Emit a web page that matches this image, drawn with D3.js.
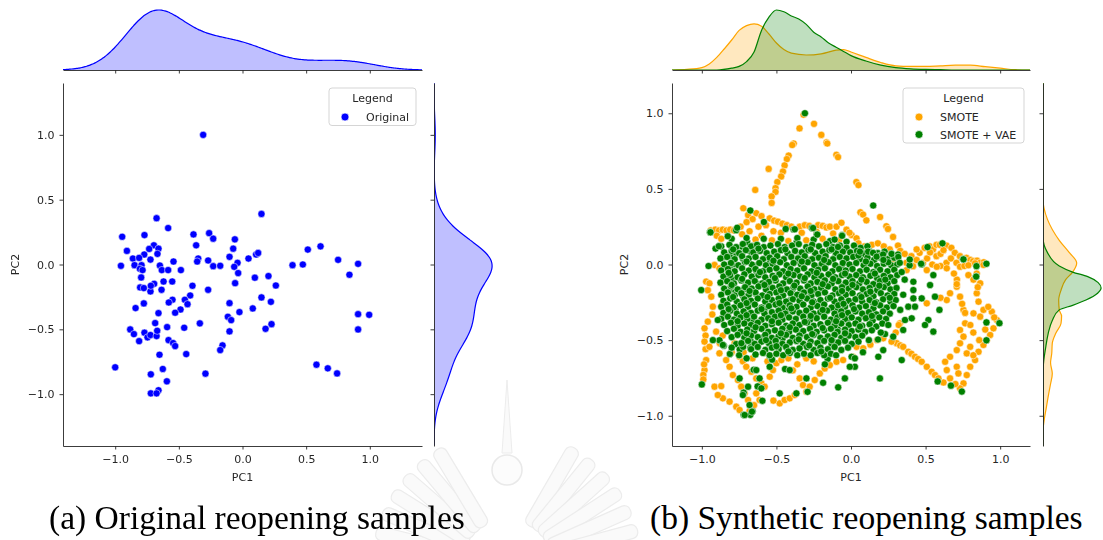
<!DOCTYPE html>
<html>
<head>
<meta charset="utf-8">
<script src="https://cdn.jsdelivr.net/npm/d3@7"></script>
<style>
  body { margin: 0; background: #fff; }
  svg { display: block; }
  .caption { font-family: "Liberation Serif", "Times New Roman", serif; font-size: 33.5px; fill: #000; }
  .lbl { font-family: "DejaVu Sans", sans-serif; font-size: 11px; fill: #262626; }
</style>
</head>
<body>
<svg width="1103" height="540"></svg>
<script>
// ---------- data ----------
const ticks = [-1.0, -0.5, 0.0, 0.5, 1.0];

// original reopening samples (PC1, PC2)
const origPoints = [
  [-0.309,1.0],[-0.675,0.357],[0.149,0.39],[-0.584,0.281],[-0.945,0.214],[-0.770,0.227],[-0.385,0.232],[-0.262,0.242],
  [-0.230,0.199],[-0.364,0.148],[-0.060,0.194],[-0.073,0.122],[-0.696,0.148],[-0.660,0.122],[-0.733,0.120],[-0.908,0.105],
  [-0.772,0.077],[-0.668,0.082],[-0.861,0.046],[-0.812,0.051],[-0.723,0.038],[-0.348,0.046],[-0.356,0.023],[-0.270,0.031],
  [-0.542,0.023],[-0.649,-0.008],[-0.230,-0.013],[-0.175,-0.010],[-0.102,0.059],[-0.039,0.013],[-0.065,-0.018],[0.047,0.046],
  [0.107,0.077],[0.123,0.089],[-0.955,-0.010],[-0.848,-0.005],[-0.793,-0.005],[-0.806,-0.033],[-0.785,-0.043],[-0.634,-0.043],
  [-0.584,-0.043],[-0.484,-0.043],[-0.796,-0.100],[0.393,-0.005],[0.474,0.0],[0.513,0.115],[0.613,0.140],[0.751,0.036],
  [0.908,0.005],[0.840,-0.079],[0.097,-0.102],[0.204,-0.089],[-0.034,-0.066],[-0.058,-0.144],[0.262,-0.162],[-0.804,-0.177],
  [-0.775,-0.182],[-0.723,-0.208],[-0.694,-0.149],[-0.720,-0.164],[-0.636,-0.195],[-0.620,-0.131],[-0.552,-0.131],[-0.393,-0.164],
  [-0.270,-0.195],[-0.411,-0.239],[0.149,-0.254],[0.223,-0.288],[-0.453,-0.272],[-0.550,-0.272],[-0.579,-0.293],[-0.432,-0.306],
  [-0.775,-0.300],[-0.102,-0.298],[-0.024,-0.367],[0.081,-0.339],[-0.840,-0.336],[-0.487,-0.347],[-0.529,-0.372],[-0.660,-0.375],
  [-0.115,-0.403],[-0.089,-0.429],[-0.335,-0.454],[-0.686,-0.452],[0.908,-0.383],[0.995,-0.388],[-0.882,-0.501],[-0.853,-0.537],
  [-0.770,-0.526],[-0.812,-0.591],[-0.746,-0.562],[-0.723,-0.544],[-0.675,-0.552],[-0.670,-0.511],[-0.592,-0.483],[-0.458,-0.488],
  [-0.102,-0.516],[0.181,-0.496],[0.228,-0.460],[0.908,-0.501],[-0.581,-0.583],[-0.545,-0.606],[-0.529,-0.629],[-0.652,-0.696],
  [-0.442,-0.691],[-0.157,-0.624],[-0.175,-0.660],[-1.0,-0.793],[-0.626,-0.806],[-0.720,-0.847],[-0.594,-0.901],[-0.291,-0.842],
  [0.581,-0.773],[0.670,-0.801],[0.743,-0.840],[-0.660,-0.970],[-0.720,-0.994],[-0.675,-0.994]
];

// SMOTE samples (visible ones)
const smotePoints = [
  [-0.318,0.99],[-0.345,0.90],[-0.384,0.80],[-0.394,0.79],[-0.418,0.72],[-0.43,0.697],[-0.445,0.655],[-0.456,0.615],
  [-0.468,0.582],[-0.494,0.545],[-0.506,0.505],[-0.506,0.48],[-0.532,0.45],[-0.532,0.407],[-0.552,0.632],[-0.642,0.493],
  [-0.722,0.372],[-0.248,0.93],[-0.199,0.857],[-0.164,0.807],[-0.159,0.80],[-0.098,0.725],[-0.087,0.71],[0.036,0.545],
  [0.05,0.525],[0.063,0.345],[0.081,0.33],[0.103,0.292],[0.195,0.314],[0.237,0.253],[0.248,0.235],[0.282,0.182],[0.315,0.125],
  [-0.94,0.225],[-0.91,0.23],[-0.885,0.225],[-0.86,0.23],[-0.835,0.225],[-0.81,0.23],[-0.785,0.225],[-0.90,0.19],[-0.87,0.17],
  [-0.69,0.327],[-0.635,0.339],[-0.60,0.32],[-0.66,0.30],[-0.70,0.28],[-0.545,0.305],[-0.515,0.29],[-0.49,0.283],[-0.46,0.27],
  [-0.43,0.26],[-0.40,0.25],[-0.344,0.25],[-0.31,0.26],[-0.28,0.255],[-0.22,0.26],[-0.19,0.255],[-0.165,0.245],[-0.142,0.25],
  [-0.097,0.25],[-0.064,0.276],[-0.03,0.23],[0.004,0.195],[0.037,0.173],[-0.62,0.25],[-0.57,0.26],[-0.74,0.25],[-0.68,0.22],
  [-0.52,0.22],[-0.47,0.21],[-0.33,0.21],[-0.23,0.215],[-0.12,0.205],[-0.01,0.21],[-0.73,0.20],[-0.60,0.19],[0.05,0.14],
  [0.09,0.12],[0.14,0.13],[0.18,0.14],[0.22,0.12],[0.26,0.10],[0.33,0.09],[0.36,0.07],
  [-0.64,0.165],[-0.53,0.16],[-0.42,0.155],[-0.30,0.16],[-0.19,0.17],[-0.08,0.16],
  [0.405,0.055],[0.46,0.077],[0.494,0.11],[0.528,0.12],[0.55,0.10],[0.573,0.13],[0.595,0.13],[0.64,0.125],[0.673,0.11],
  [0.696,0.077],[0.73,0.055],[0.774,0.044],[0.80,0.03],[0.819,0.022],[0.845,0.025],[0.864,0.011],[0.89,0.015],[0.573,0.055],
  [0.60,0.07],[0.64,0.011],[0.67,0.04],[0.707,0.011],[0.483,0.011],[0.51,0.04],[0.416,-0.011],[0.371,0.011],[0.282,0.033],
  [0.44,0.10],[0.53,0.08],[0.62,0.095],[0.545,0.0],[0.60,-0.01],[0.44,0.03],
  [0.731,-0.015],[0.76,-0.01],[0.787,-0.005],[0.832,0.008],[0.888,-0.003],[0.787,-0.07],[0.843,-0.06],[0.821,-0.10],
  [0.866,-0.124],[0.843,-0.19],[0.855,-0.246],[0.85,-0.15],[0.888,-0.30],[0.944,-0.312],[0.978,-0.367],[0.955,-0.422],
  [0.933,-0.466],[0.91,-0.50],[0.888,-0.532],[0.855,-0.577],[0.832,-0.632],[0.799,-0.676],[0.776,-0.731],[0.754,-0.786],
  [0.731,-0.819],[0.664,-0.19],[0.709,-0.147],[0.731,-0.213],[0.754,-0.30],[0.765,-0.32],[0.821,-0.323],[0.866,-0.345],
  [0.765,-0.389],[0.731,-0.433],[0.754,-0.477],[0.731,-0.521],[0.709,-0.566],[0.664,-0.61],[0.631,-0.643],[0.642,-0.698],
  [0.709,-0.676],[0.72,-0.72],[0.664,-0.753],[0.776,-0.588],[0.799,-0.544],[0.71,-0.10],[0.69,-0.06],[0.745,-0.26],
  [0.96,-0.35],[0.92,-0.28],[0.90,-0.43],[0.82,-0.45],[0.80,-0.40],[0.86,-0.50],[0.82,-0.60],[0.70,-0.79],[0.62,-0.78],
  [0.306,-0.52],[0.33,-0.535],[0.35,-0.544],[0.384,-0.577],[0.405,-0.59],[0.429,-0.61],[0.45,-0.625],[0.474,-0.643],
  [0.508,-0.676],[0.541,-0.709],[0.563,-0.731],[0.586,-0.753],[0.328,-0.389],[0.508,-0.257],[0.642,-0.235],[0.60,-0.22],
  [0.283,-0.015],[0.373,-0.037],[0.508,-0.037],[0.575,-0.015],[0.642,-0.025],[0.709,-0.13],[0.037,-0.544],[0.082,-0.554],
  [0.13,-0.53],[0.175,-0.50],[0.216,-0.488],[0.272,-0.51],[0.30,-0.45],[0.32,-0.40],
  [-0.971,-0.113],[-0.949,-0.124],[-0.96,-0.17],[-0.937,-0.213],[-0.926,-0.279],[-0.93,-0.33],[-0.96,-0.378],[-0.982,-0.422],
  [-0.975,-0.47],[-0.982,-0.51],[-0.975,-0.56],[-0.971,-0.632],[-0.982,-0.698],[-0.99,-0.73],[-0.985,-0.66],[-0.99,-0.76],
  [-0.904,-0.444],[-0.949,-0.544],[-0.882,-0.587],[-0.837,-0.632],[-0.814,-0.676],[-0.792,-0.731],[-0.758,-0.764],[-0.736,-0.808],
  [-0.713,-0.852],[-0.69,-0.896],[-0.769,-0.94],[-0.814,-0.907],[-0.859,-0.885],[-0.893,-0.863],[-0.915,-0.808],[-0.87,-0.804],
  [-0.747,-0.962],[-0.747,-0.61],[-0.725,-0.64],[-0.702,-0.676],[-0.668,-0.709],[-0.635,-0.753],[-0.601,-0.786],[-0.579,-0.808],
  [-0.545,-0.742],[-0.523,-0.698],[-0.50,-0.653],[-0.467,-0.632],[-0.478,-0.918],[-0.445,-0.896],[-0.411,-0.885],[-0.377,-0.863],
  [-0.344,-0.753],[-0.322,-0.797],[-0.299,-0.841],[-0.277,-0.808],[-0.243,-0.764],[-0.209,-0.72],[-0.176,-0.687],[-0.142,-0.665],
  [-0.097,-0.643],[-0.053,-0.632],[0.014,-0.61],[-0.635,-0.852],[-0.613,-0.896],[-0.915,-0.003],[-0.882,-0.025],[-0.859,-0.257],
  [-0.88,-0.52],[-0.86,-0.47],[-0.80,-0.58],[-0.78,-0.52],[-0.72,-0.58],[-0.66,-0.62],[-0.56,-0.64],[-0.42,-0.62],[-0.30,-0.62],
  [-0.25,-0.64],[-0.65,-0.93],[-0.68,-0.97],[-0.52,-0.90],[-0.39,-0.70],[-0.36,-0.66]
];

// SMOTE + VAE samples: the dense core
const vaeCloud = [
  [-0.80,0.17],[-0.70,0.175],[-0.585,0.17],[-0.47,0.17],[-0.36,0.175],[-0.25,0.165],[-0.14,0.155],[-0.03,0.15],
  [-0.87,0.12],[-0.815,0.13],[-0.77,0.115],[-0.725,0.135],[-0.67,0.12],[-0.63,0.13],[-0.585,0.115],[-0.54,0.125],[-0.49,0.135],[-0.445,0.115],[-0.395,0.125],[-0.35,0.135],[-0.30,0.115],[-0.26,0.13],[-0.215,0.12],[-0.165,0.135],[-0.12,0.115],[-0.075,0.125],[-0.03,0.11],[0.02,0.125],[0.065,0.11],[0.11,0.12],
  [-0.85,0.08],[-0.80,0.09],[-0.75,0.075],[-0.705,0.095],[-0.655,0.08],[-0.61,0.09],[-0.565,0.075],[-0.515,0.085],[-0.47,0.095],[-0.425,0.075],[-0.375,0.09],[-0.33,0.08],[-0.285,0.095],[-0.24,0.075],[-0.19,0.085],[-0.145,0.095],[-0.10,0.075],[-0.055,0.085],[-0.005,0.08],[0.04,0.09],[0.085,0.07],[0.13,0.08],[0.18,0.075],[0.225,0.085],[0.27,0.07],
  [-0.875,0.04],[-0.83,0.05],[-0.78,0.035],[-0.73,0.055],[-0.685,0.04],[-0.64,0.05],[-0.59,0.035],[-0.545,0.045],[-0.495,0.055],[-0.45,0.035],[-0.40,0.05],[-0.355,0.04],[-0.31,0.055],[-0.26,0.035],[-0.215,0.045],[-0.17,0.055],[-0.12,0.035],[-0.075,0.05],[-0.03,0.04],[0.015,0.05],[0.06,0.035],[0.11,0.045],[0.155,0.03],[0.20,0.045],[0.245,0.035],[0.29,0.045],
  [-0.85,0.0],[-0.805,0.01],[-0.755,-0.005],[-0.71,0.015],[-0.665,0.0],[-0.615,0.01],[-0.57,-0.005],[-0.525,0.005],[-0.475,0.015],[-0.43,-0.005],[-0.385,0.01],[-0.335,0.0],[-0.29,0.015],[-0.245,-0.005],[-0.195,0.005],[-0.15,0.015],[-0.105,-0.005],[-0.055,0.01],[-0.01,0.0],[0.035,0.01],[0.085,-0.005],[0.13,0.005],[0.175,-0.01],[0.22,0.005],[0.27,-0.005],[0.31,0.0],
  [-0.87,-0.04],[-0.825,-0.03],[-0.78,-0.045],[-0.73,-0.025],[-0.685,-0.04],[-0.64,-0.03],[-0.59,-0.045],[-0.545,-0.035],[-0.50,-0.025],[-0.455,-0.045],[-0.405,-0.03],[-0.36,-0.04],[-0.315,-0.025],[-0.265,-0.045],[-0.22,-0.035],[-0.175,-0.025],[-0.125,-0.045],[-0.08,-0.03],[-0.035,-0.04],[0.01,-0.03],[0.06,-0.045],[0.105,-0.035],[0.15,-0.05],[0.195,-0.035],[0.245,-0.045],[0.29,-0.035],
  [-0.855,-0.08],[-0.81,-0.07],[-0.76,-0.085],[-0.715,-0.065],[-0.665,-0.08],[-0.62,-0.07],[-0.575,-0.085],[-0.525,-0.075],[-0.48,-0.065],[-0.435,-0.085],[-0.385,-0.07],[-0.34,-0.08],[-0.29,-0.065],[-0.245,-0.085],[-0.20,-0.075],[-0.15,-0.065],[-0.105,-0.085],[-0.06,-0.07],[-0.01,-0.08],[0.035,-0.07],[0.08,-0.085],[0.13,-0.075],[0.175,-0.09],[0.22,-0.075],[0.265,-0.085],[0.31,-0.07],
  [-0.875,-0.12],[-0.83,-0.11],[-0.785,-0.125],[-0.735,-0.105],[-0.69,-0.12],[-0.645,-0.11],[-0.595,-0.125],[-0.55,-0.115],[-0.505,-0.105],[-0.455,-0.125],[-0.41,-0.11],[-0.365,-0.12],[-0.315,-0.105],[-0.27,-0.125],[-0.225,-0.115],[-0.175,-0.105],[-0.13,-0.125],[-0.085,-0.11],[-0.035,-0.12],[0.01,-0.11],[0.055,-0.125],[0.105,-0.115],[0.15,-0.13],[0.195,-0.11],[0.245,-0.125],[0.29,-0.11],
  [-0.85,-0.16],[-0.805,-0.145],[-0.76,-0.165],[-0.71,-0.15],[-0.665,-0.16],[-0.62,-0.145],[-0.57,-0.165],[-0.525,-0.155],[-0.48,-0.145],[-0.43,-0.165],[-0.385,-0.15],[-0.34,-0.16],[-0.29,-0.145],[-0.245,-0.165],[-0.20,-0.155],[-0.155,-0.145],[-0.105,-0.165],[-0.06,-0.15],[-0.015,-0.16],[0.035,-0.15],[0.08,-0.165],[0.125,-0.155],[0.175,-0.17],[0.22,-0.15],[0.265,-0.165],[0.305,-0.155],
  [-0.87,-0.2],[-0.825,-0.185],[-0.78,-0.205],[-0.735,-0.19],[-0.685,-0.2],[-0.64,-0.185],[-0.595,-0.205],[-0.545,-0.195],[-0.50,-0.185],[-0.455,-0.205],[-0.405,-0.19],[-0.36,-0.2],[-0.315,-0.185],[-0.265,-0.205],[-0.22,-0.195],[-0.175,-0.185],[-0.125,-0.205],[-0.08,-0.19],[-0.035,-0.2],[0.01,-0.19],[0.06,-0.205],[0.105,-0.195],[0.15,-0.21],[0.20,-0.19],[0.245,-0.205],[0.29,-0.195],
  [-0.855,-0.24],[-0.81,-0.225],[-0.765,-0.245],[-0.715,-0.23],[-0.67,-0.24],[-0.625,-0.225],[-0.575,-0.245],[-0.53,-0.235],[-0.485,-0.225],[-0.435,-0.245],[-0.39,-0.23],[-0.345,-0.24],[-0.295,-0.225],[-0.25,-0.245],[-0.205,-0.235],[-0.155,-0.225],[-0.11,-0.245],[-0.065,-0.23],[-0.015,-0.24],[0.03,-0.23],[0.075,-0.245],[0.125,-0.235],[0.17,-0.25],[0.215,-0.23],[0.265,-0.245],[0.30,-0.235],
  [-0.87,-0.28],[-0.83,-0.265],[-0.785,-0.285],[-0.74,-0.27],[-0.69,-0.28],[-0.645,-0.265],[-0.60,-0.285],[-0.55,-0.275],[-0.505,-0.265],[-0.46,-0.285],[-0.41,-0.27],[-0.365,-0.28],[-0.32,-0.265],[-0.27,-0.285],[-0.225,-0.275],[-0.18,-0.265],[-0.13,-0.285],[-0.085,-0.27],[-0.04,-0.28],[0.01,-0.27],[0.055,-0.285],[0.10,-0.275],[0.15,-0.29],[0.195,-0.27],[0.24,-0.285],[0.285,-0.275],
  [-0.855,-0.32],[-0.81,-0.305],[-0.765,-0.325],[-0.72,-0.31],[-0.67,-0.32],[-0.625,-0.305],[-0.58,-0.325],[-0.53,-0.315],[-0.485,-0.305],[-0.44,-0.325],[-0.39,-0.31],[-0.345,-0.32],[-0.30,-0.305],[-0.25,-0.325],[-0.205,-0.315],[-0.16,-0.305],[-0.11,-0.325],[-0.065,-0.31],[-0.02,-0.32],[0.03,-0.31],[0.075,-0.325],[0.12,-0.315],[0.17,-0.33],[0.215,-0.31],[0.26,-0.325],
  [-0.87,-0.36],[-0.825,-0.345],[-0.785,-0.365],[-0.74,-0.35],[-0.695,-0.36],[-0.65,-0.345],[-0.60,-0.365],[-0.555,-0.355],[-0.51,-0.345],[-0.46,-0.365],[-0.415,-0.35],[-0.37,-0.36],[-0.32,-0.345],[-0.275,-0.365],[-0.23,-0.355],[-0.18,-0.345],[-0.135,-0.365],[-0.09,-0.35],[-0.04,-0.36],[0.005,-0.35],[0.05,-0.365],[0.10,-0.355],[0.145,-0.37],[0.19,-0.35],[0.235,-0.36],
  [-0.85,-0.4],[-0.805,-0.385],[-0.76,-0.405],[-0.715,-0.39],[-0.67,-0.4],[-0.625,-0.385],[-0.575,-0.405],[-0.53,-0.395],[-0.485,-0.385],[-0.435,-0.405],[-0.39,-0.39],[-0.345,-0.4],[-0.295,-0.385],[-0.25,-0.405],[-0.205,-0.395],[-0.155,-0.385],[-0.11,-0.405],[-0.065,-0.39],[-0.015,-0.4],[0.03,-0.39],[0.075,-0.405],[0.125,-0.395],[0.17,-0.41],[0.21,-0.39],
  [-0.83,-0.44],[-0.785,-0.425],[-0.74,-0.445],[-0.695,-0.43],[-0.65,-0.44],[-0.60,-0.425],[-0.555,-0.445],[-0.51,-0.435],[-0.46,-0.425],[-0.415,-0.445],[-0.37,-0.43],[-0.32,-0.44],[-0.275,-0.425],[-0.23,-0.445],[-0.18,-0.435],[-0.135,-0.425],[-0.09,-0.445],[-0.04,-0.43],[0.005,-0.44],[0.05,-0.43],[0.095,-0.445],[0.14,-0.435],
  [-0.80,-0.48],[-0.76,-0.465],[-0.715,-0.485],[-0.67,-0.47],[-0.625,-0.48],[-0.575,-0.465],[-0.53,-0.485],[-0.485,-0.475],[-0.435,-0.465],[-0.39,-0.485],[-0.345,-0.47],[-0.295,-0.48],[-0.25,-0.465],[-0.205,-0.485],[-0.155,-0.475],[-0.11,-0.465],[-0.065,-0.485],[-0.015,-0.47],[0.03,-0.48],[0.075,-0.47],
  [-0.735,-0.52],[-0.69,-0.505],[-0.645,-0.525],[-0.60,-0.51],[-0.55,-0.52],[-0.505,-0.505],[-0.46,-0.525],[-0.41,-0.515],[-0.365,-0.505],[-0.32,-0.525],[-0.27,-0.51],[-0.225,-0.52],[-0.18,-0.505],[-0.13,-0.525],[-0.085,-0.515],[-0.04,-0.505],[0.005,-0.525],[0.05,-0.51],
  [-0.67,-0.56],[-0.625,-0.545],[-0.575,-0.565],[-0.53,-0.55],[-0.485,-0.56],[-0.435,-0.545],[-0.39,-0.565],[-0.345,-0.555],[-0.295,-0.545],[-0.25,-0.565],[-0.205,-0.55],[-0.155,-0.56],[-0.11,-0.545],[-0.065,-0.565],[-0.02,-0.55],
  [-0.64,-0.595],[-0.59,-0.585],[-0.545,-0.6],[-0.50,-0.59],[-0.455,-0.6],[-0.41,-0.585],[-0.36,-0.6],[-0.315,-0.59],[-0.27,-0.6],[-0.225,-0.585],[-0.18,-0.6],[-0.135,-0.59],
  [-0.79,0.10],[-0.62,0.105],[-0.44,0.10],[-0.27,0.10],[-0.13,0.10],[0.05,0.06],[0.20,0.06],[-0.70,0.02],[-0.52,0.025],
  [-0.33,0.02],[-0.18,0.03],[0.10,0.02],[0.25,0.015],[-0.82,-0.055],[-0.61,-0.05],[-0.42,-0.06],[-0.23,-0.055],[-0.04,-0.06],
  [0.16,-0.06],[-0.73,-0.095],[-0.51,-0.09],[-0.31,-0.09],[-0.12,-0.095],[0.07,-0.10],[0.23,-0.10],[-0.80,-0.135],[-0.58,-0.135],
  [-0.38,-0.14],[-0.19,-0.13],[0.01,-0.135],[0.19,-0.14],[-0.68,-0.175],[-0.47,-0.17],[-0.27,-0.175],[-0.06,-0.175],[0.13,-0.18],
  [-0.79,-0.215],[-0.56,-0.215],[-0.33,-0.21],[-0.14,-0.22],[0.07,-0.215],[0.26,-0.22],[-0.70,-0.255],[-0.48,-0.255],[-0.26,-0.25],
  [-0.05,-0.26],[0.16,-0.255],[-0.82,-0.295],[-0.60,-0.295],[-0.40,-0.29],[-0.19,-0.30],[0.02,-0.295],[-0.70,-0.335],[-0.47,-0.335],
  [-0.27,-0.34],[-0.06,-0.335],[0.14,-0.34],[-0.76,-0.375],[-0.53,-0.375],[-0.31,-0.38],[-0.10,-0.375],[-0.64,-0.415],[-0.41,-0.415],
  [-0.19,-0.42],[0.06,-0.41],[-0.70,-0.455],[-0.47,-0.455],[-0.26,-0.46],[-0.04,-0.455],[-0.57,-0.50],[-0.35,-0.495],[-0.13,-0.50],
  [-0.50,-0.54],[-0.28,-0.535],[-0.42,-0.575],[-0.20,-0.575]
];

// SMOTE + VAE samples scattered around the core
const vaeScatter = [
  [-0.942,0.213],[-0.763,0.243],[-0.438,0.235],[-0.377,0.233],[-0.254,0.241],[-0.226,0.198],[-0.06,0.19],[-0.886,0.121],
  [-0.826,0.187],[-0.11,0.165],[-0.087,0.116],[0.06,0.085],[0.115,0.085],[0.148,0.077],[0.172,0.052],[0.215,0.066],
  [0.217,0.03],[0.272,0.07],[0.315,0.066],[0.317,0.05],[0.327,0.011],[0.394,0.033],[0.47,0.005],[0.754,0.034],
  [0.841,-0.011],[0.418,-0.114],[0.53,-0.136],[0.552,-0.07],[0.839,-0.08],[0.418,-0.169],[0.418,-0.224],[0.474,-0.224],
  [0.563,-0.213],[0.384,-0.279],[0.429,-0.279],[0.593,-0.30],[0.362,-0.367],[0.407,-0.356],[0.519,-0.367],[0.496,-0.40],
  [0.35,-0.433],[0.552,-0.444],[0.283,-0.477],[0.33,-0.30],[0.35,-0.20],[0.36,-0.10],[0.34,-0.05],
  [0.216,-0.566],[0.183,-0.61],[0.004,-0.61],[0.026,-0.676],[0.194,-0.753],[0.34,-0.632],[-0.008,-0.676],[0.026,-0.62],
  [-0.041,-0.753],[-0.086,-0.812],[-0.187,-0.782],[-0.299,-0.753],[-0.366,-0.852],[-0.411,-0.698],[-0.478,-0.852],[-0.545,-0.676],
  [-0.601,-0.819],[-0.613,-0.753],[-0.635,-0.698],[-0.69,-0.808],[-0.725,-0.863],[-0.68,-0.929],[-0.664,-0.973],[-0.713,-0.995],
  [-0.747,-0.753],[-0.893,-0.367],[-0.926,-0.50],[-0.859,-0.532],[-1.004,-0.169],[-0.80,-0.55],[-0.75,-0.60],[-0.70,-0.62],
  [-0.10,-0.60],[0.08,-0.58],[0.12,-0.50],[0.20,-0.45],[0.25,-0.40]
];

// marginal densities of panel (b), relative to the tallest curve
const smoteTopX = [-1.2,-1.1,-1.0,-0.95,-0.9,-0.85,-0.8,-0.75,-0.7,-0.65,-0.6,-0.55,-0.5,-0.45,-0.4,-0.3,-0.2,-0.1,-0.05,0.0,0.1,0.2,0.3,0.4,0.5,0.6,0.7,0.8,0.9,1.0,1.1,1.2];
const smoteTopD = [0,0.01,0.04,0.10,0.21,0.35,0.50,0.66,0.74,0.77,0.73,0.60,0.45,0.34,0.28,0.25,0.27,0.33,0.34,0.30,0.21,0.125,0.07,0.06,0.06,0.07,0.08,0.08,0.055,0.03,0.005,0];
const vaeTopX = [-1.2,-0.9,-0.8,-0.75,-0.7,-0.65,-0.6,-0.55,-0.5,-0.45,-0.4,-0.35,-0.3,-0.25,-0.2,-0.15,-0.1,-0.05,0.0,0.1,0.2,0.3,0.4,0.5,0.6,0.7,1.2];
const vaeTopD = [0,0,0.03,0.06,0.14,0.30,0.66,0.88,1.0,0.97,0.90,0.85,0.76,0.63,0.55,0.45,0.38,0.31,0.24,0.15,0.08,0.04,0.02,0.01,0.005,0,0];
const smoteSideY = [-1.2,-1.1,-1.03,-0.94,-0.85,-0.79,-0.72,-0.65,-0.59,-0.52,-0.455,-0.39,-0.34,-0.30,-0.235,-0.17,-0.10,-0.05,0.01,0.08,0.16,0.30,0.43,1.2];
const smoteSideD = [0,0,0.02,0.06,0.10,0.13,0.16,0.13,0.15,0.16,0.22,0.31,0.32,0.28,0.27,0.31,0.39,0.51,0.58,0.45,0.28,0.075,0,0];
const vaeSideY = [-1.2,-0.68,-0.54,-0.455,-0.37,-0.30,-0.27,-0.235,-0.19,-0.156,-0.12,-0.08,-0.05,-0.01,0.08,0.18,1.2];
const vaeSideD = [0,0.005,0.05,0.09,0.16,0.28,0.51,0.74,0.94,1.0,0.95,0.77,0.51,0.28,0.075,0,0];

const vaePoints = origPoints.concat(vaeCloud, vaeScatter);

// ---------- drawing ----------
const svg = d3.select("svg");
const ink = "#262626";
const fmt = t => (t < 0 ? "\u2212" : "") + Math.abs(t).toFixed(1);

// gaussian kde, scott bandwidth, scaled so that the peak is 1
function kde(values){
    const bw = d3.deviation(values) * Math.pow(values.length, -0.2);
    const lo = d3.min(values) - 3 * bw, hi = d3.max(values) + 3 * bw;
    const pts = d3.range(240).map(i => {
        const g = lo + (hi - lo) * i / 239;
        return [g, d3.mean(values, v => Math.exp(-0.5 * ((g - v) / bw) ** 2))];
    });
    const peak = d3.max(pts, d => d[1]);
    return pts.map(d => [d[0], d[1] / peak]);
}

function styleAxis(g){
    g.attr("font-family", "DejaVu Sans, sans-serif").attr("font-size", 11);
    g.selectAll("path.domain").attr("stroke", ink).attr("stroke-width", 0.9);
    g.selectAll(".tick line").attr("stroke", ink).attr("stroke-width", 0.9);
    g.selectAll(".tick text").attr("fill", ink);
}

// faint emblem watermark behind the captions
function drawWatermark(cx, cy){
    const wm = svg.append("g").attr("opacity", 0.4);
    const angles = d3.range(-175, -120, 9).concat(d3.range(-60, -4, 9));
    angles.forEach(a => {
        wm.append("rect")
            .attr("x", 45).attr("y", -7).attr("width", 90).attr("height", 14).attr("rx", 6)
            .attr("transform", `translate(${cx},${cy}) rotate(${a})`)
            .attr("fill", "#f2f2f2").attr("stroke", "#cfcfcf").attr("stroke-width", 1.2);
    });
    wm.append("circle").attr("cx", cx).attr("cy", cy - 95).attr("r", 15)
        .attr("fill", "#f7f7f7").attr("stroke", "#c8c8c8").attr("stroke-width", 1.5);
    wm.append("path")
        .attr("d", `M${cx - 5},${cy - 112} L${cx},${cy - 185} L${cx + 5},${cy - 112} Z`)
        .attr("fill", "#f2f2f2").attr("stroke", "#d0d0d0");
}

function drawPanel(p){
    const g = svg.append("g");
    const x = d3.scaleLinear().domain(p.xDomain).range([p.left, p.right]);
    const y = d3.scaleLinear().domain(p.yDomain).range([p.bottom, p.top]);
    const topY = d3.scaleLinear().domain([0, 1.05]).range([70, 7]);
    const sideX = d3.scaleLinear().domain([0, 1.05]).range([p.side, p.side + 61]);

    const id = p.name;
    const defs = g.append("defs");
    defs.append("clipPath").attr("id", id + "-top")
        .append("rect").attr("x", p.left).attr("y", 0).attr("width", p.right - p.left).attr("height", 70);
    defs.append("clipPath").attr("id", id + "-side")
        .append("rect").attr("x", p.side).attr("y", p.top).attr("width", 80).attr("height", p.bottom - p.top);

    // top marginal curves
    const topG = g.append("g").attr("clip-path", `url(#${id}-top)`);
    p.topCurves.forEach(c => {
        topG.append("path").datum(c.data)
            .attr("fill", c.color).attr("fill-opacity", 0.25)
            .attr("d", d3.area().x(d => x(d[0])).y0(70).y1(d => topY(d[1])).curve(d3.curveMonotoneX));
        topG.append("path").datum(c.data)
            .attr("fill", "none").attr("stroke", c.color).attr("stroke-width", 1.2)
            .attr("d", d3.line().x(d => x(d[0])).y(d => topY(d[1])).curve(d3.curveMonotoneX));
    });

    // side marginal curves
    const sideG = g.append("g").attr("clip-path", `url(#${id}-side)`);
    p.sideCurves.forEach(c => {
        sideG.append("path").datum(c.data)
            .attr("fill", c.color).attr("fill-opacity", 0.25)
            .attr("d", d3.area().y(d => y(d[0])).x0(p.side).x1(d => sideX(d[1])).curve(d3.curveMonotoneY));
        sideG.append("path").datum(c.data)
            .attr("fill", "none").attr("stroke", c.color).attr("stroke-width", 1.2)
            .attr("d", d3.line().y(d => y(d[0])).x(d => sideX(d[1])).curve(d3.curveMonotoneY));
    });

    // marginal spines
    g.append("g").attr("transform", "translate(0,70)")
        .call(d3.axisBottom(x).tickValues(ticks).tickFormat("").tickSize(3.5).tickSizeOuter(0))
        .call(styleAxis);
    g.append("g").attr("transform", `translate(${p.side},0)`)
        .call(d3.axisLeft(y).tickValues(ticks).tickFormat("").tickSize(3.5).tickSizeOuter(0))
        .call(styleAxis);

    // scatter
    p.series.forEach(s => {
        g.append("g").selectAll("circle")
            .data(s.points)
            .enter()
            .append("circle")
            .attr("cx", d => x(d[0]))
            .attr("cy", d => y(d[1]))
            .attr("r", 3.6)
            .attr("fill", s.color)
            .attr("stroke", "#fff")
            .attr("stroke-opacity", 0.75)
            .attr("stroke-width", 0.7);
    });

    // main axes
    g.append("g").attr("transform", `translate(0,${p.bottom})`)
        .call(d3.axisBottom(x).tickValues(ticks).tickFormat(fmt).tickSize(3.5).tickSizeOuter(0).tickPadding(6))
        .call(styleAxis);
    g.append("g").attr("transform", `translate(${p.left},0)`)
        .call(d3.axisLeft(y).tickValues(ticks).tickFormat(fmt).tickSize(3.5).tickSizeOuter(0).tickPadding(5))
        .call(styleAxis);

    g.append("text").attr("class", "lbl")
        .attr("x", (p.left + p.right) / 2).attr("y", 481)
        .attr("text-anchor", "middle").text("PC1");
    g.append("text").attr("class", "lbl")
        .attr("transform", `translate(${p.left - 44},${(p.top + p.bottom) / 2}) rotate(-90)`)
        .attr("text-anchor", "middle").text("PC2");

    // legend
    const lg = p.legend;
    const leg = g.append("g");
    leg.append("rect")
        .attr("x", lg.x).attr("y", 88).attr("width", lg.w).attr("height", 20 + 17.5 * p.series.length)
        .attr("rx", 3).attr("fill", "#fff").attr("fill-opacity", 0.8)
        .attr("stroke", "#d0d0d0").attr("stroke-width", 0.9);
    leg.append("text").attr("class", "lbl")
        .attr("x", lg.x + lg.w / 2).attr("y", 102).attr("text-anchor", "middle").text("Legend");
    p.series.forEach((s, i) => {
        leg.append("circle")
            .attr("cx", lg.x + 16).attr("cy", 117 + 17.5 * i).attr("r", 4)
            .attr("fill", s.color).attr("stroke", "#fff").attr("stroke-width", 0.7);
        leg.append("text").attr("class", "lbl")
            .attr("x", lg.x + lg.tx).attr("y", 121 + 17.5 * i).text(s.name);
    });

    // caption
    svg.append("text").attr("class", "caption")
        .attr("x", p.capX).attr("y", 529).text(p.caption);
}

drawWatermark(507, 565);

drawPanel({
    name: "a", left: 63, right: 422, top: 83, bottom: 446, side: 434,
    xDomain: [-1.41, 1.41], yDomain: [-1.4, 1.4],
    topCurves: [{ color: "blue", data: kde(origPoints.map(d => d[0])) }],
    sideCurves: [{ color: "blue", data: kde(origPoints.map(d => d[1])) }],
    series: [{ name: "Original", color: "blue", points: origPoints }],
    legend: { x: 329, w: 87, tx: 37 },
    caption: "(a) Original reopening samples", capX: 49
});

drawPanel({
    name: "b", left: 672, right: 1030, top: 83, bottom: 446, side: 1043,
    xDomain: [-1.2, 1.2], yDomain: [-1.2, 1.2],
    topCurves: [
        { color: "orange", data: d3.zip(smoteTopX, smoteTopD) },
        { color: "green", data: d3.zip(vaeTopX, vaeTopD) }
    ],
    sideCurves: [
        { color: "orange", data: d3.zip(smoteSideY, smoteSideD) },
        { color: "green", data: d3.zip(vaeSideY, vaeSideD) }
    ],
    series: [
        { name: "SMOTE", color: "orange", points: smotePoints },
        { name: "SMOTE + VAE", color: "green", points: vaePoints }
    ],
    legend: { x: 903, w: 121, tx: 37 },
    caption: "(b) Synthetic reopening samples", capX: 650
});
</script>
</body>
</html>
